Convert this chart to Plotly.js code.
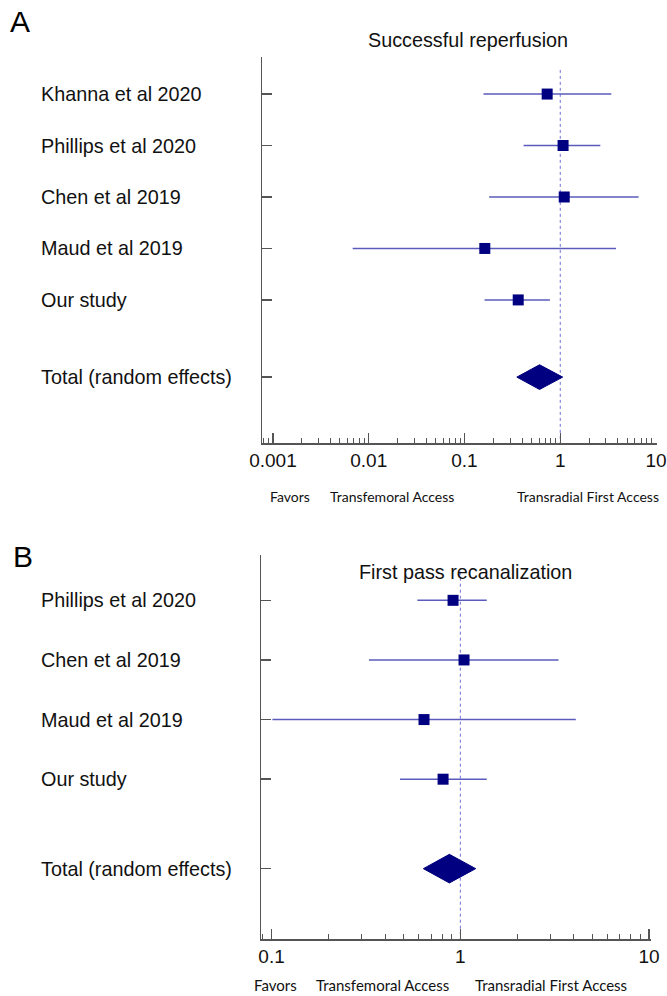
<!DOCTYPE html>
<html><head><meta charset="utf-8">
<script src="https://cdn.plot.ly/plotly-3.0.1.min.js"></script>
<style>html,body{margin:0;padding:0;background:#fff}#chart{width:667px;height:996px}</style>
</head><body><div id="chart"></div>
<script>
// ---- Panel A: Successful reperfusion ----
const studiesA = ["Khanna et al 2020", "Phillips et al 2020", "Chen et al 2019", "Maud et al 2019", "Our study"];
const estA  = [0.73, 1.07, 1.10, 0.163, 0.364];
const lowA  = [0.158, 0.414, 0.181, 0.0068, 0.162];
const highA = [3.41, 2.62, 6.58, 3.82, 0.78];
const totalLabelA = "Total (random effects)";
const totalA = [0.352, 0.608, 1.06];   // low, estimate, high
const tickValsA = [0.001, 0.01, 0.1, 1, 10];
const tickTextA = ["0.001", "0.01", "0.1", "1", "10"];

// ---- Panel B: First pass recanalization ----
const studiesB = ["Phillips et al 2020", "Chen et al 2019", "Maud et al 2019", "Our study"];
const estB  = [0.915, 1.046, 0.642, 0.81];
const lowB  = [0.592, 0.328, 0.101, 0.479];
const highB = [1.38, 3.31, 4.09, 1.38];
const totalLabelB = "Total (random effects)";
const totalB = [0.637, 0.875, 1.206];
const tickValsB = [0.1, 1, 10];
const tickTextB = ["0.1", "1", "10"];

const titleA = "Successful reperfusion";
const titleB = "First pass recanalization";
const favors = ["Favors", "Transfemoral Access", "Transradial First Access"];

// ---- styling ----
const W = 667, H = 996;
const NAVY = "#000080", CI = "#5b5bbd", REF = "#7070d8", AX = "#555";
const ARIAL = "Liberation Sans, Arial, sans-serif";
const CAL = "Lato, Carlito, sans-serif";
const FS = 19.8;

const traces = [];
const annotations = [];

function panel(xa, ya, studies, est, low, high, totalLabel, total, refTop, yBottom) {
  const rows = studies.map((s, i) => i + 1);
  const totRow = studies.length + 1.5;
  // reference line at 1
  traces.push({x: [1, 1], y: [refTop, yBottom], xaxis: xa, yaxis: ya, mode: "lines",
    line: {color: REF, width: 1, dash: "dot"}, hoverinfo: "skip"});
  // CIs + squares
  traces.push({x: est, y: rows, xaxis: xa, yaxis: ya, mode: "markers", type: "scatter",
    error_x: {type: "data", symmetric: false,
      array: est.map((v, i) => high[i] - v), arrayminus: est.map((v, i) => v - low[i]),
      color: CI, thickness: 1.5, width: 0},
    marker: {symbol: "square", size: 11, color: NAVY}});
  // diamond
  const h = 0.24;
  traces.push({x: [total[0], total[1], total[2], total[1], total[0]],
    y: [totRow, totRow - h, totRow, totRow + h, totRow], xaxis: xa, yaxis: ya,
    mode: "lines", fill: "toself", fillcolor: NAVY, line: {color: NAVY, width: 1}});
  // labels
  studies.concat([totalLabel]).forEach((s, i) => {
    annotations.push({text: s, x: 39 / W, xref: "paper", xanchor: "left",
      y: i < studies.length ? rows[i] : totRow, yref: ya, yanchor: "middle",
      showarrow: false, font: {family: ARIAL, size: FS, color: "#111"}});
  });
  return rows.concat([totRow]);
}

const rowsA = panel("x", "y", studiesA, estA, lowA, highA, totalLabelA, totalA, 0.53, 7.78);
const rowsB = panel("x2", "y2", studiesB, estB, lowB, highB, totalLabelB, totalB, 0.52, 6.68);

function ann(text, xpx, ypx, size, family, color) {
  annotations.push({text: text, x: xpx / W, y: 1 - ypx / H, xref: "paper", yref: "paper",
    xanchor: "center", yanchor: "middle", showarrow: false,
    font: {family: family, size: size, color: color || "#111"}});
}
ann(titleA, 468, 40, FS, ARIAL);
ann(titleB, 465, 572, FS, ARIAL);
ann("A", 20, 21, 30, ARIAL, "#000");
ann("B", 23, 556, 30, ARIAL, "#000");
ann(favors[0], 290, 496, 14, CAL);
ann(favors[1], 392, 496, 14, CAL);
ann(favors[2], 588, 496, 14, CAL);
ann(favors[0], 275, 985, 15, CAL);
ann(favors[1], 382, 985, 15, CAL);
ann(favors[2], 551, 985, 15, CAL);

function xax(domain, range, vals, text, anchor) {
  return {type: "log", domain: domain, range: range, anchor: anchor,
    showline: true, linecolor: AX, linewidth: 1.5, mirror: false,
    ticks: "inside", ticklen: 10, tickwidth: 1.5, tickcolor: AX,
    tickmode: "array", tickvals: vals, ticktext: text,
    tickfont: {family: ARIAL, size: 19, color: "#111"},
    ticklabeloverflow: "allow",
    showgrid: false, zeroline: false, fixedrange: true,
    minor: {ticks: "inside", ticklen: 5, tickwidth: 1, tickcolor: AX, dtick: "D1", showgrid: false}};
}
function yax(domain, range, rows, anchor) {
  return {domain: domain, range: range, anchor: anchor,
    showline: true, linecolor: AX, linewidth: 1.5,
    ticks: "inside", ticklen: 10, tickwidth: 1.5, tickcolor: AX,
    tickmode: "array", tickvals: rows, showticklabels: false,
    showgrid: false, zeroline: false, fixedrange: true};
}

const layout = {
  width: W, height: H, margin: {l: 0, r: 0, t: 0, b: 0},
  paper_bgcolor: "#fff", plot_bgcolor: "#fff", showlegend: false,
  xaxis: xax([262 / W, 657 / W], [-3.114, 1.01], tickValsA, tickTextA, "y"),
  yaxis: yax([1 - 443 / H, 1 - 57 / H], [7.78, 0.28], rowsA, "x"),
  xaxis2: xax([261 / W, 651 / W], [-1.056, 1.01], tickValsB, tickTextB, "y2"),
  yaxis2: yax([1 - 939 / H, 1 - 555 / H], [6.68, 0.24], rowsB, "x2"),
  annotations: annotations
};
Plotly.newPlot("chart", traces, layout, {displayModeBar: false, staticPlot: true});
</script></body></html>
